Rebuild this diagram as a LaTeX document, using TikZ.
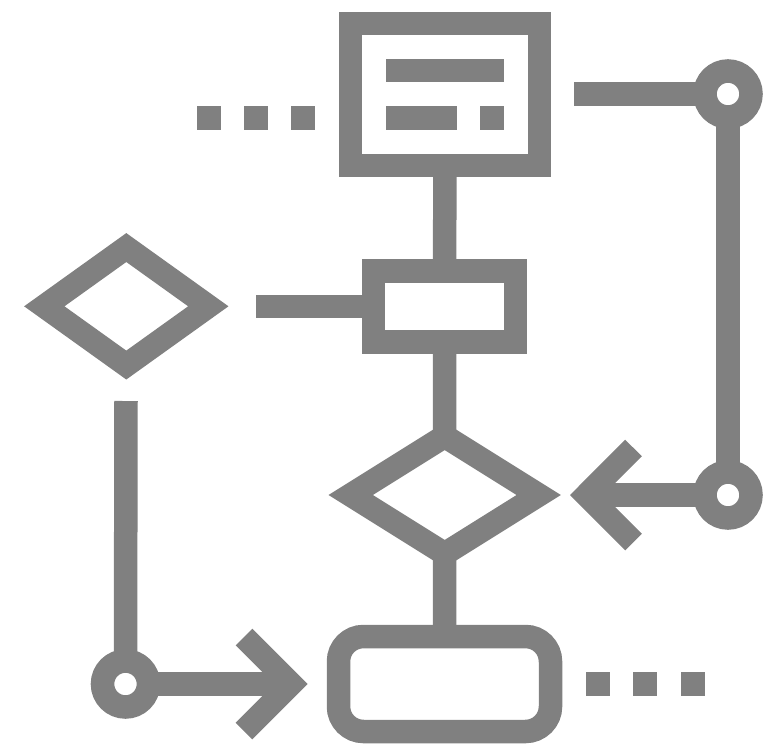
\documentclass[tikz,border=0pt]{standalone}
\usetikzlibrary{shapes.geometric}
\definecolor{ic}{RGB}{128,128,128}
\tikzset{
  ln/.style={draw=ic,line width=23.5pt},
  box/.style={ln,rectangle,inner sep=0pt,outer sep=0pt},
  dia/.style={draw=ic,line width=23.5pt,diamond,inner sep=0pt,outer sep=0pt,miter limit=10},
  ring/.style={ln,circle,inner sep=0pt,outer sep=0pt,minimum size=46pt,fill=white},
  bar/.style={fill=ic,inner sep=0pt,outer sep=0pt,rectangle,minimum height=23.5pt}
}
\begin{document}
\begin{tikzpicture}[x=1pt,y=-1pt]
\useasboundingbox (0,0) rectangle (765,747);
\fill[white] (0,0) rectangle (765,747);
% connector ends
\coordinate (c1) at (574,94);
\coordinate (c2) at (256,306.5);
\coordinate (c3) at (126,401);
\coordinate (v1) at (586.6,495);
\coordinate (v2) at (291,684);
\coordinate (a1u) at (633.5,448);
\coordinate (a1d) at (633.5,542);
\coordinate (a2u) at (244,637);
\coordinate (a2d) at (244,731);
% nodes
\node[box,minimum width=189pt,minimum height=142pt] (top) at (445,94.5) {};
\node[box,minimum width=142pt,minimum height=71pt] (mid) at (444.5,306.5) {};
\node[dia,minimum width=188pt,minimum height=117.5pt] (dc) at (444.7,495) {};
\node[dia,minimum width=164pt,minimum height=117.5pt] (dl) at (126.3,306.3) {};
\node[box,rounded corners=25pt,minimum width=212pt,minimum height=95pt] (bot) at (444.5,684) {};
\node[ring] (r1) at (728,94) {};
\node[ring] (r2) at (728,495) {};
\node[ring] (r3) at (125.5,684) {};
% connectors
\draw[ln] (top.south) -- (mid.north);
\draw[ln] (mid.south) -- (dc.north);
\draw[ln] (dc.south) -- (bot.north);
\draw[ln] (c1) -- (r1.west);
\draw[ln] (c2) -- (mid.west);
\draw[ln] (r1.south) -- (r2.north);
\draw[ln] (r2.west) -- (v1);
\draw[ln] (c3) -- (r3.north);
\draw[ln] (r3.east) -- (v2);
\draw[ln,miter limit=10] (a1u) -- (v1) -- (a1d);
\draw[ln,miter limit=10] (a2u) -- (v2) -- (a2d);
% text bars in top box
\node[bar,minimum width=118pt] (b1) at (445,70.5) {};
\node[bar,minimum width=71pt] (b2) at (421.5,118) {};
\node[bar,minimum width=24pt] (b3) at (492,118) {};
% dots
\foreach \n/\x in {a/209,b/256,c/303}{\node[bar,minimum width=24pt] (d\n) at (\x,118) {};}
\foreach \n/\x in {e/598,f/645,g/693}{\node[bar,minimum width=24pt] (d\n) at (\x,684) {};}
\end{tikzpicture}
\end{document}
